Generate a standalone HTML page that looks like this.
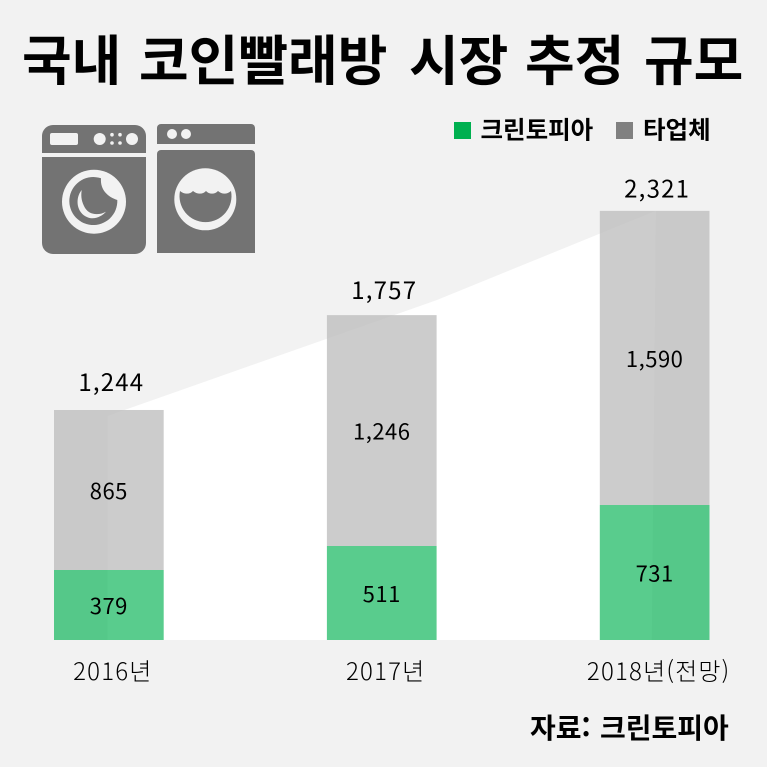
<!DOCTYPE html>
<html lang="ko">
<head>
<meta charset="utf-8">
<title>국내 코인빨래방 시장 추정 규모</title>
<style>
html,body{margin:0;padding:0;background:#f2f2f2;width:767px;height:767px;overflow:hidden}
svg{display:block}
text{font-family:"Noto Sans CJK KR","Liberation Sans",sans-serif;fill:#000}
</style>
</head>
<body>
<svg id="chart" width="767" height="767" viewBox="0 0 767 767" xmlns="http://www.w3.org/2000/svg">
  <rect width="767" height="767" fill="#f2f2f2"/>
  <text y="80" font-size="54" font-weight="700"><tspan x="22">국내</tspan><tspan x="139">코인빨래방</tspan><tspan x="409">시장</tspan><tspan x="525">추정</tspan><tspan x="644">규모</tspan></text>

  <g id="bg-layer"></g>
  <g id="bar-layer"></g>
  <g id="label-layer"></g>

  <g fill="#737373">
    <path d="M42 153V136a11 11 0 0 1 11-11H135a11 11 0 0 1 11 11V153Z"/>
    <path d="M42 157H146V243a11 11 0 0 1-11 11H53a11 11 0 0 1-11-11Z"/>
    <rect x="50" y="133" width="28" height="12" rx="2" fill="#f2f2f2"/>
    <g fill="#f2f2f2">
      <circle cx="99.7" cy="139" r="6"/>
      <circle cx="132" cy="139" r="6"/>
      <circle cx="112" cy="134.7" r="1.8"/>
      <circle cx="120" cy="134.7" r="1.8"/>
      <circle cx="112" cy="143" r="1.8"/>
      <circle cx="120" cy="143" r="1.8"/>
      <circle cx="94" cy="201.7" r="32"/>
    </g>
    <path d="M101 178.300A24 24 0 1 0 117.300 200C108 197 100 190 101 178.300Z"/>
    <path d="M81.700 190C75 198 76 213 88 217.500C95 220 102 216 106 211.700C98 216 88 215 84 206C81 200 81 195 81.700 190Z" fill="#f2f2f2"/>
  </g>
  <g fill="#737373">
    <path d="M157 144V128a4 4 0 0 1 4-4H251a4 4 0 0 1 4 4V144Z"/>
    <path d="M157 154a4 4 0 0 1 4-4H251a4 4 0 0 1 4 4V253H157Z"/>
    <circle cx="172" cy="134" r="5" fill="#f2f2f2"/>
    <circle cx="186" cy="134" r="5" fill="#f2f2f2"/>
    <circle cx="205.300" cy="199.300" r="31" fill="#f2f2f2"/>
    <path d="M180 191C184 194.500 190 194.500 193 191C197 194.500 203 194.500 206 191C209 194.500 215 194.500 218 191C222 194.500 227 194.500 231 191A26 26 0 1 1 180 191Z"/>
  </g>

  <g>
    <rect x="454" y="122" width="17" height="17" fill="#00b050"/>
    <text x="480.500" y="138.500" font-size="24.500" font-weight="700">크린토피아</text>
    <rect x="616" y="122" width="17" height="17" fill="#808080"/>
    <text x="643" y="138.500" font-size="24.500" font-weight="700">타업체</text>
  </g>

  <text y="738" font-size="28" font-weight="700"><tspan x="530">자료:</tspan><tspan x="600">크린토피아</tspan></text>
</svg>
<script>
var categories = ['2016년', '2017년', '2018년(전망)'];
var greentopiaValues = [379, 511, 731];
var otherValues = [865, 1246, 1590];
var totalValues = [1244, 1757, 2321];
var valueLabelsGreen = ['379', '511', '731'];
var valueLabelsOther = ['865', '1,246', '1,590'];
var valueLabelsTotal = ['1,244', '1,757', '2,321'];

var NS = 'http://www.w3.org/2000/svg';
var baseY = 640;
var pxPerUnit = 0.1849;
var barWidth = 109.700;
var firstBarX = 54;
var barStep = 272.900;

function yScale(v) { return baseY - v * pxPerUnit; }
function xScale(i) { return firstBarX + i * barStep; }

function make(tag, parentId, attrs, text) {
  var el = document.createElementNS(NS, tag);
  for (var k in attrs) { el.setAttribute(k, attrs[k]); }
  if (text !== undefined) { el.textContent = text; }
  document.getElementById(parentId).appendChild(el);
  return el;
}

var last = categories.length - 1;
var wedgeLeft = xScale(0) + 53.500;
var wedge = make('polygon', 'bg-layer', {
  points: wedgeLeft + ',' + (yScale(totalValues[0]) + 6) + ' ' +
          (xScale(1) + barWidth) + ',' + (yScale(totalValues[1]) - 15) + ' ' +
          (xScale(last) + 56) + ',' + yScale(totalValues[last]) + ' ' +
          (xScale(last) + 52) + ',' + baseY + ' ' + wedgeLeft + ',' + baseY,
  fill: '#ffffff'
});



categories.forEach(function (cat, i) {
  var x = xScale(i);
  var cx = x + barWidth / 2;
  var yGreen = Math.ceil(yScale(greentopiaValues[i]));
  var yTotal = yScale(greentopiaValues[i] + otherValues[i]);

  var other = make('rect', 'bar-layer', { x: x, y: yTotal, width: barWidth, height: yGreen - yTotal, fill: '#bdbdbd', 'fill-opacity': 0.77 });
  
  

  var green = make('rect', 'bar-layer', { x: x, y: yGreen, width: barWidth, height: baseY - yGreen, fill: '#00b050', 'fill-opacity': 0.65 });
  
  

  var t1 = make('text', 'label-layer', { x: cx, y: (yGreen + baseY) / 2 + 9, 'text-anchor': 'middle', 'font-size': 22, 'letter-spacing': 0.5 }, valueLabelsGreen[i]);
  
  

  var t2 = make('text', 'label-layer', { x: cx, y: (yTotal + yGreen) / 2 + 9, 'text-anchor': 'middle', 'font-size': 22, 'letter-spacing': 0.5 }, valueLabelsOther[i]);
  
  

  var t3 = make('text', 'label-layer', { x: cx + 2.500, y: yTotal - 19 + i * 2.75, 'text-anchor': 'middle', 'font-size': 24, 'letter-spacing': 1.2 }, valueLabelsTotal[i]);
  
  

  var t4 = make('text', 'label-layer', { x: cx + 4, y: 680, 'text-anchor': 'middle', 'font-size': 24, 'font-weight': 300, 'letter-spacing': 1.2, fill: '#222' }, cat);
  
  
});
</script>
</body>
</html>
